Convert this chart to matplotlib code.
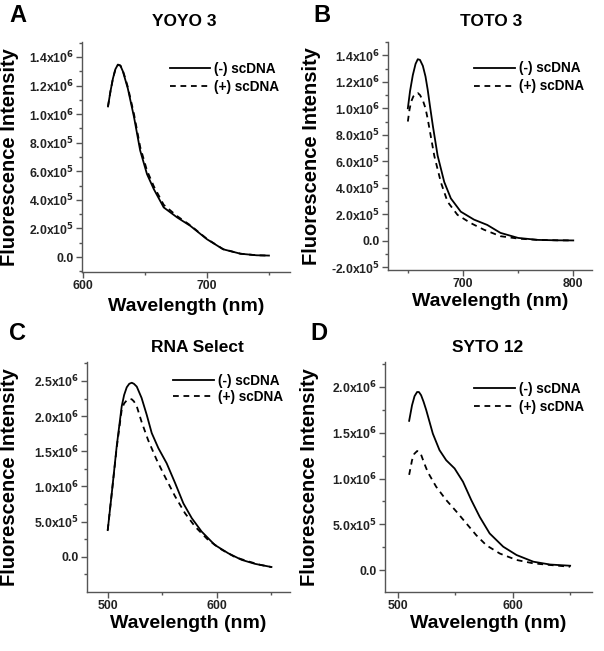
import matplotlib
matplotlib.use('Agg')
import matplotlib.pyplot as plt

# Emission spectra: wavelength (nm), intensity (a.u.)
# A - YOYO 3
yoyo_wl_neg = [620, 622, 624, 626, 628, 630, 632, 634, 636, 641, 646, 651.5, 657, 665, 676, 686.5,
               700, 713, 727, 740, 750]
yoyo_neg = [1.054e6, 1.16e6, 1.25e6, 1.315e6, 1.347e6, 1.34e6, 1.3e6, 1.24e6, 1.18e6, 0.98e6,
            0.745e6, 0.58e6, 0.475e6, 0.347e6, 0.276e6, 0.218e6, 0.124e6, 0.054e6, 0.023e6,
            0.012e6, 0.01e6]
yoyo_wl_pos = [620, 622, 624, 626, 628, 630, 632, 634, 636, 641, 646, 651.5, 657, 665, 676, 686.5,
               700, 713, 727, 740, 750]
yoyo_pos = [1.054e6, 1.16e6, 1.25e6, 1.315e6, 1.345e6, 1.34e6, 1.305e6, 1.25e6, 1.19e6, 1.0e6,
            0.77e6, 0.605e6, 0.495e6, 0.365e6, 0.285e6, 0.222e6, 0.126e6, 0.055e6, 0.023e6,
            0.012e6, 0.01e6]

# B - TOTO 3
toto_wl_neg = [650, 652, 654.5, 657, 659, 661, 663.6, 666, 668, 670, 672.7, 677, 683, 689, 698,
               710, 722, 734, 750, 768, 785, 800]
toto_neg = [1.0e6, 1.13e6, 1.25e6, 1.335e6, 1.37e6, 1.365e6, 1.32e6, 1.24e6, 1.14e6, 1.02e6,
            0.866e6, 0.643e6, 0.444e6, 0.32e6, 0.22e6, 0.16e6, 0.12e6, 0.06e6, 0.022e6,
            0.007e6, 0.004e6, 0.003e6]
toto_wl_pos = [650, 651.5, 653, 655, 657.5, 659, 661, 663.6, 666, 668, 671, 674, 680, 686, 695,
               707, 719, 734, 750, 768, 785, 800]
toto_pos = [0.9e6, 0.99e6, 1.05e6, 1.09e6, 1.11e6, 1.115e6, 1.1e6, 1.06e6, 1.0e6, 0.92e6, 0.78e6,
            0.64e6, 0.44e6, 0.295e6, 0.196e6, 0.134e6, 0.084e6, 0.035e6, 0.017e6, 0.007e6,
            0.004e6, 0.003e6]

# C - RNA Select
rna_wl_neg = [500, 503.7, 508.2, 512.8, 515, 517.4, 519.7, 522, 524, 526.6, 531, 535.7, 540.3,
              546.4, 554, 561.7, 569.3, 577, 586, 598, 610.5, 622.7, 635, 650]
rna_neg = [3.8e5, 9.05e5, 1.57e6, 2.14e6, 2.3e6, 2.41e6, 2.46e6, 2.475e6, 2.46e6, 2.42e6, 2.26e6,
           2.02e6, 1.76e6, 1.545e6, 1.33e6, 1.05e6, 7.6e5, 5.5e5, 3.6e5, 1.7e5, 5e4, -4.3e4,
           -1.0e5, -1.45e5]
rna_wl_pos = [500, 503.7, 508.2, 512.8, 515, 517.4, 520, 522, 524, 526.6, 531, 537, 544.8, 552.4,
              561.7, 570.8, 580, 592, 604.6, 616.8, 629, 640, 650]
rna_pos = [3.8e5, 9.05e5, 1.55e6, 2.09e6, 2.18e6, 2.225e6, 2.245e6, 2.24e6, 2.21e6, 2.14e6,
           1.92e6, 1.66e6, 1.38e6, 1.14e6, 8.6e5, 6.2e5, 4.3e5, 2.4e5, 1.0e5, -5e3, -6.6e4,
           -1.15e5, -1.45e5]

# D - SYTO 12
syto_wl_neg = [510, 512.5, 514.7, 516.9, 518.5, 520.4, 522.5, 524.8, 530.6, 536.4, 542.2, 549.5,
               556.8, 564, 571.4, 580, 591.8, 603.4, 618, 632.6, 650]
syto_neg = [1.63e6, 1.8e6, 1.9e6, 1.945e6, 1.945e6, 1.91e6, 1.84e6, 1.75e6, 1.49e6, 1.31e6,
            1.2e6, 1.11e6, 9.65e5, 7.65e5, 5.8e5, 4.0e5, 2.55e5, 1.64e5, 9.1e4, 6.0e4, 4.7e4]
syto_wl_pos = [510, 512.5, 514.5, 516.9, 518.5, 520.4, 523, 526.2, 533.5, 542.2, 551, 559.7,
               568.4, 577.2, 588.9, 603.4, 618, 632.6, 650]
syto_pos = [1.04e6, 1.2e6, 1.27e6, 1.3e6, 1.295e6, 1.26e6, 1.17e6, 1.07e6, 9.1e5, 7.65e5, 6.4e5,
            5.1e5, 3.8e5, 2.7e5, 1.8e5, 1.1e5, 7.3e4, 5.5e4, 3.6e4]

titles = ['YOYO 3', 'TOTO 3', 'RNA Select', 'SYTO 12']
letters = ['A', 'B', 'C', 'D']
legend_labels = ['(-) scDNA', '(+) scDNA']

# y tick values and labels for each panel
yt_a = [0, 2e5, 4e5, 6e5, 8e5, 1.0e6, 1.2e6, 1.4e6]
yl_a = ['0.0', r'2.0x10$^{5}$', r'4.0x10$^{5}$', r'6.0x10$^{5}$', r'8.0x10$^{5}$',
        r'1.0x10$^{6}$', r'1.2x10$^{6}$', r'1.4x10$^{6}$']
yt_b = [-2e5] + yt_a
yl_b = [r'-2.0x10$^{5}$'] + yl_a
yt_c = [0, 5e5, 1.0e6, 1.5e6, 2.0e6, 2.5e6]
yl_c = ['0.0', r'5.0x10$^{5}$', r'1.0x10$^{6}$', r'1.5x10$^{6}$', r'2.0x10$^{6}$', r'2.5x10$^{6}$']
yt_d = yt_c[:-1]
yl_d = yl_c[:-1]

W, H = 604, 651
plt.rcParams['font.family'] = ['Liberation Sans', 'DejaVu Sans']
plt.rcParams['font.weight'] = 'bold'
plt.rcParams['mathtext.default'] = 'bf'
fig = plt.figure(figsize=(W / 100, H / 100), dpi=100)


def box(l, r, t, b):
    return [l / W, 1 - b / H, (r - l) / W, (b - t) / H]


panels = [
    dict(rect=box(82, 290, 42, 272), xlim=(599, 767), ylim=(-1.05e5, 1.505e6),
         xt=[600, 700], xm=[650, 750], yt=yt_a, yl=yl_a, ym=1e5,
         data=(yoyo_wl_neg, yoyo_neg, yoyo_wl_pos, yoyo_pos),
         ylx=-0.305, xly=-0.113, leg=(0.95, 0.915), lsp=0.3,
         title_xy=(184, 22), letter_xy=(9, 15)),
    dict(rect=box(388, 592, 42, 270), xlim=(632, 817), ylim=(-2.2e5, 1.5e6),
         xt=[700, 800], xm=[650, 750], yt=yt_b, yl=yl_b, ym=1e5,
         data=(toto_wl_neg, toto_neg, toto_wl_pos, toto_pos),
         ylx=-0.33, xly=-0.10, leg=(0.96, 0.915), lsp=0.3,
         title_xy=(491, 22), letter_xy=(313, 15)),
    dict(rect=box(87, 290, 362, 592), xlim=(481, 667), ylim=(-5e5, 2.77e6),
         xt=[500, 600], xm=[550, 650], yt=yt_c, yl=yl_c, ym=2.5e5,
         data=(rna_wl_neg, rna_neg, rna_wl_pos, rna_pos),
         ylx=-0.335, xly=-0.10, leg=(0.965, 0.948), lsp=0.12,
         title_xy=(197, 347), letter_xy=(9, 334)),
    dict(rect=box(385, 592, 362, 592), xlim=(489, 669), ylim=(-2.4e5, 2.273e6),
         xt=[500, 600], xm=[550, 650], yt=yt_d, yl=yl_d, ym=2.5e5,
         data=(syto_wl_neg, syto_neg, syto_wl_pos, syto_pos),
         ylx=-0.32, xly=-0.10, leg=(0.96, 0.915), lsp=0.3,
         title_xy=(488, 347), letter_xy=(310, 334)),
]

for i, p in enumerate(panels):
    ax = fig.add_axes(p['rect'])
    xn, yn, xp, yp = p['data']
    ax.plot(xn, yn, color='black', lw=1.3, label=legend_labels[0])
    ax.plot(xp, yp, color='black', lw=1.3, ls=(0, (3.2, 2.6)), label=legend_labels[1])
    ax.set_xlim(*p['xlim'])
    ax.set_ylim(*p['ylim'])
    ax.set_xticks(p['xt'])
    ax.set_xticks(p['xm'], minor=True)
    ax.set_yticks(p['yt'])
    ax.set_yticklabels(p['yl'])
    ym = p['ym']
    minor_y = []
    v = p['yt'][0] - ym
    while v <= p['ylim'][1]:
        if v >= p['ylim'][0]:
            minor_y.append(v)
        v += ym
    ax.set_yticks(minor_y, minor=True)
    for s in ['top', 'right']:
        ax.spines[s].set_visible(False)
    for s in ['left', 'bottom']:
        ax.spines[s].set_color('#555555')
        ax.spines[s].set_linewidth(1.0)
    ax.tick_params(which='major', direction='out', length=4, width=1, color='#555555',
                   labelsize=8.8, labelcolor='#222222', pad=2)
    ax.tick_params(which='minor', direction='out', length=2.5, width=1, color='#555555')
    ax.set_ylabel('Fluorescence Intensity', fontsize=14.5, fontweight='bold')
    ax.yaxis.set_label_coords(p['ylx'], 0.5)
    ax.set_xlabel('Wavelength (nm)', fontsize=14, fontweight='bold')
    ax.xaxis.set_label_coords(0.5, p['xly'])
    ax.legend(loc='upper right', bbox_to_anchor=p['leg'], frameon=False, fontsize=9.8,
              handlelength=3.0, handletextpad=0.3, labelspacing=p['lsp'], borderaxespad=0,
              borderpad=0)
    tx, ty = p['title_xy']
    fig.text(tx / W, 1 - ty / H, titles[i], ha='center', va='center', fontsize=12.5,
             fontweight='bold')
    lx, ly = p['letter_xy']
    fig.text(lx / W, 1 - ly / H, letters[i], ha='left', va='center', fontsize=17,
             fontweight='bold')

fig.savefig('out.png', dpi=100)
